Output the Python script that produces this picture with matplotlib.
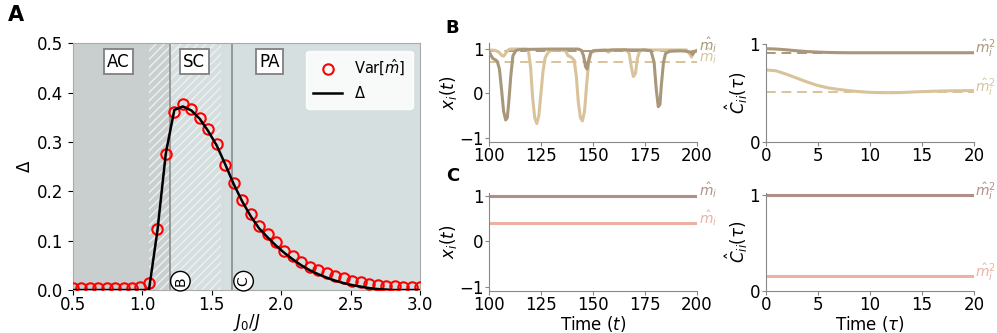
import numpy as np
import matplotlib.pyplot as plt
from matplotlib.patches import Rectangle

# ---------------- panel A: phase diagram ----------------
J0 = np.linspace(0.5, 3.0, 42)
var_m = [0.005, 0.005, 0.005, 0.005, 0.005, 0.005, 0.005, 0.005, 0.006, 0.015,
         0.123, 0.275, 0.360, 0.377, 0.367, 0.349, 0.326, 0.296, 0.253, 0.216,
         0.182, 0.155, 0.130, 0.113, 0.097, 0.080, 0.068, 0.056, 0.047, 0.041,
         0.034, 0.028, 0.024, 0.019, 0.016, 0.013, 0.010, 0.009, 0.008, 0.007,
         0.007, 0.007]
delta = [0, 0, 0, 0, 0, 0, 0, 0, 0, 0,
         0.120, 0.278, 0.365, 0.372, 0.364, 0.347, 0.322, 0.293, 0.255, 0.215,
         0.180, 0.150, 0.125, 0.107, 0.090, 0.075, 0.062, 0.050, 0.040, 0.032,
         0.025, 0.019, 0.014, 0.010, 0.007, 0.004, 0.002, 0.001, 0.0, 0.0,
         0.0, 0.0]
region_labels = ["AC", "SC", "PA"]
region_label_x = [0.83, 1.375, 1.915]

# ---------------- panel B: switching units ----------------
tB1 = [100, 101, 102, 103, 104, 105, 106, 107, 108, 108.8, 109.5, 110.5, 111.5, 113, 115,
       130, 143, 144.5, 145.5, 146.5, 147.2, 148, 149, 150, 155, 160, 175, 178, 179.5,
       180.5, 181.5, 182.3, 183, 184, 185, 187, 192, 195, 197, 198, 199, 200]
xB1 = [0.95, 0.85, 0.78, 0.76, 0.72, 0.55, 0.1, -0.4, -0.6, -0.55, -0.2, 0.4, 0.85, 0.97, 0.99,
       1.0, 1.0, 0.97, 0.85, 0.6, 0.55, 0.75, 0.93, 0.96, 0.97, 0.98, 0.98, 0.96, 0.7,
       0.1, -0.3, -0.25, 0.2, 0.7, 0.9, 0.95, 0.96, 0.95, 0.93, 0.88, 0.95, 0.96]
tB2 = [100, 103, 105, 106, 107, 108, 109, 110, 118, 119, 120, 121, 122, 123, 124, 125, 126,
       127, 128.5, 130, 135, 137, 138, 139.5, 141, 142, 143, 144, 145, 146, 147, 148, 149,
       151, 156, 157.5, 159, 166, 167.5, 168.5, 169.5, 170.5, 171.5, 172.5, 174, 195,
       196.5, 197.5, 198.5, 200]
xB2 = [0.98, 0.97, 0.92, 0.86, 0.84, 0.9, 0.97, 1.0, 1.0, 0.95, 0.6, -0.1, -0.55, -0.68, -0.5, 0.0, 0.5,
       0.8, 0.93, 0.97, 0.98, 0.95, 0.85, 0.82, 0.75, 0.4, -0.2, -0.55, -0.62, -0.4, 0.2, 0.7, 0.9,
       0.97, 0.98, 0.93, 0.98, 0.99, 0.9, 0.6, 0.38, 0.45, 0.8, 0.95, 0.98, 0.98,
       0.9, 0.82, 0.92, 0.97]
mB = [0.955, 0.716]
tauB = [0, 1, 2, 3, 4, 5, 6, 7, 8, 9, 10, 11, 12, 13, 14, 15, 16, 17, 18, 19, 20]
cB1 = [0.952, 0.948, 0.940, 0.930, 0.922, 0.917, 0.913, 0.911, 0.910, 0.910, 0.910,
       0.910, 0.910, 0.910, 0.910, 0.910, 0.910, 0.910, 0.910, 0.910, 0.910]
cB2 = [0.735, 0.725, 0.690, 0.650, 0.610, 0.575, 0.550, 0.535, 0.522, 0.512, 0.505,
       0.502, 0.501, 0.503, 0.508, 0.512, 0.516, 0.519, 0.521, 0.522, 0.522]
mB_sq = [0.911, 0.513]

# ---------------- panel C: frozen units ----------------
tC = [100, 200]
xC = [1.0, 0.39]
tauC = [0, 20]
cC = [1.0, 0.152]

colB = ["#a8977a", "#d8c39a"]
colC = ["#b08f86", "#ebb2a2"]

plt.rcParams["font.size"] = 12
fig = plt.figure(figsize=(9.97, 3.33), dpi=100)

# ---- A ----
ax = fig.add_axes([0.0729, 0.129, 0.3484, 0.741])
ax.axvspan(0.5, 1.2, color="#c9cece", lw=0, zorder=0)
ax.axvspan(1.2, 3.0, color="#d6dfe0", lw=0, zorder=0)
ax.add_patch(Rectangle((1.05, 0), 0.52, 0.5, facecolor="none", edgecolor="#eef1f1",
                       hatch="////", lw=0, zorder=0.5))
ax.axvline(1.2, color="#8c8c8c", lw=1.2, zorder=1)
ax.axvline(1.65, color="#8c8c8c", lw=1.2, zorder=1)
for lab, xl in zip(region_labels, region_label_x):
    ax.text(xl, 0.463, lab, ha="center", va="center", fontsize=12,
            bbox=dict(boxstyle="square,pad=0.2", fc="white", ec="#808080", lw=1.3))
ax.plot(J0, var_m, "o", mfc="none", mec="red", ms=7.5, mew=1.5, label=r"Var[$\hat{m}$]", zorder=3)
ax.plot(J0, delta, "k-", lw=1.8, label=r"$\Delta$", zorder=4)
for lab, xl in zip(["B", "C"], [1.275, 1.73]):
    ax.text(xl, 0.018, lab, rotation=90, ha="center", va="center", fontsize=10,
            bbox=dict(boxstyle="circle,pad=0.2", fc="white", ec="black", lw=1.0), zorder=5)
ax.set_xlim(0.5, 3.0)
ax.set_ylim(0, 0.5)
ax.set_xticks([0.5, 1.0, 1.5, 2.0, 2.5, 3.0])
ax.set_yticks([0.0, 0.1, 0.2, 0.3, 0.4, 0.5])
ax.tick_params(axis="x", pad=1)
ax.set_xlabel(r"$J_0/J$", labelpad=-2)
ax.set_ylabel(r"$\Delta$", labelpad=2)
for s in ax.spines.values():
    s.set_color("#aaaaaa")
ax.legend(loc="upper right", fontsize=10.5, framealpha=0.85, edgecolor="white",
          handlelength=2.0, borderpad=0.5, handletextpad=0.8)

# ---- right panels ----
def style(a):
    a.spines["top"].set_visible(False)
    a.spines["right"].set_visible(False)
    a.spines["left"].set_color("#888888")
    a.spines["bottom"].set_color("#888888")
    a.tick_params(length=3, color="#888888", pad=1)

axB1 = fig.add_axes([0.4905, 0.5745, 0.2083, 0.2955])
axB1.plot(tB1, xB1, color=colB[0], lw=2.2, zorder=3)
axB1.plot(tB2, xB2, color=colB[1], lw=2.2, zorder=2)
for m, c in zip(mB, colB):
    axB1.axhline(m, color=c, lw=1.4, ls=(0, (5, 3)), zorder=1)
    axB1.text(201, m, r"$\hat{m}_i$", color=c, fontsize=10, va="baseline", ha="left")
axB1.set_xlim(100, 200)
axB1.set_ylim(-1.09, 1.13)
axB1.set_xticks([100, 125, 150, 175, 200])
axB1.set_yticks([-1, 0, 1])
axB1.set_ylabel(r"$x_i(t)$", labelpad=0)
style(axB1)

axB2 = fig.add_axes([0.768, 0.5745, 0.209, 0.2935])
axB2.plot(tauB, cB1, color=colB[0], lw=2.2, zorder=3)
axB2.plot(tauB, cB2, color=colB[1], lw=2.2, zorder=2)
for m, c in zip(mB_sq, colB):
    axB2.axhline(m, color=c, lw=1.4, ls=(0, (5, 3)), zorder=1)
    axB2.text(20.1, m, r"$\hat{m}_i^2$", color=c, fontsize=10, va="baseline", ha="left")
axB2.set_xlim(0, 20)
axB2.set_ylim(0, 1)
axB2.set_xticks([0, 5, 10, 15, 20])
axB2.set_yticks([0, 1])
axB2.set_ylabel(r"$\hat{C}_{ii}(\tau)$", labelpad=0)
style(axB2)

axC1 = fig.add_axes([0.4905, 0.1271, 0.2083, 0.2925])
for v, c in zip(xC, colC):
    axC1.plot(tC, [v, v], color=c, lw=2.2)
    axC1.text(201, v, r"$\hat{m}_i$", color=c, fontsize=10, va="baseline", ha="left")
axC1.set_xlim(100, 200)
axC1.set_ylim(-1.09, 1.05)
axC1.set_xticks([100, 125, 150, 175, 200])
axC1.set_yticks([-1, 0, 1])
axC1.set_ylabel(r"$x_i(t)$", labelpad=0)
axC1.set_xlabel(r"Time ($t$)", labelpad=0)
style(axC1)

axC2 = fig.add_axes([0.768, 0.1271, 0.209, 0.2925])
for v, c in zip(cC, colC):
    axC2.plot(tauC, [v, v], color=c, lw=2.2)
    axC2.text(20.1, v, r"$\hat{m}_i^2$", color=c, fontsize=10, va="baseline", ha="left")
axC2.set_xlim(0, 20)
axC2.set_ylim(0, 1.02)
axC2.set_xticks([0, 5, 10, 15, 20])
axC2.set_yticks([0, 1])
axC2.set_ylabel(r"$\hat{C}_{ii}(\tau)$", labelpad=0)
axC2.set_xlabel(r"Time ($\tau$)", labelpad=0)
style(axC2)

fig.text(0.008, 0.955, "A", fontsize=15, fontweight="bold", va="center")
fig.text(0.447, 0.917, "B", fontsize=13, fontweight="bold", va="center")
fig.text(0.447, 0.47, "C", fontsize=13, fontweight="bold", va="center")

fig.savefig("out.png", dpi=100)
